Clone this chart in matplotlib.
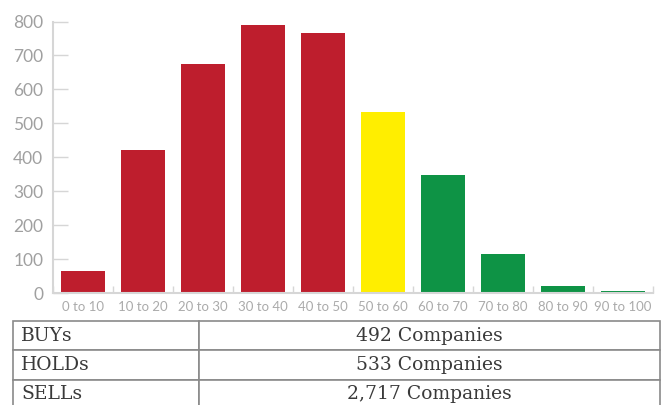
import matplotlib
matplotlib.use('Agg')
import matplotlib.pyplot as plt
import numpy as np

# Данные
ranges = ['0 to 10', '10 to 20', '20 to 30', '30 to 40', '40 to 50',
          '50 to 60', '60 to 70', '70 to 80', '80 to 90', '90 to 100']
counts = [65, 421, 675, 790, 766, 533, 349, 116, 22, 5]
bar_colors = ['#BE1E2D'] * 5 + ['#FFEE00'] + ['#0E9345'] * 4

table_labels = ['BUYs', 'HOLDs', 'SELLs']
table_values = ['492 Companies', '533 Companies', '2,717 Companies']

W, H = 663, 405
fig = plt.figure(figsize=(W / 100, H / 100), dpi=100)

# Полотно с барами
ax = fig.add_axes([53 / W, (H - 293) / H, 600 / W, 271.5 / H])
x = np.arange(len(ranges))
ax.bar(x, counts, width=0.73, color=bar_colors)
ax.set_xlim(-0.5, len(ranges) - 0.5)
ax.set_ylim(0, 800)

for s in ['top', 'right']:
    ax.spines[s].set_visible(False)
for s in ['left', 'bottom']:
    ax.spines[s].set_color('#d6d6d6')
    ax.spines[s].set_linewidth(1.5)

ax.set_yticks(range(0, 801, 100))
ax.tick_params(axis='y', direction='in', length=11, width=1, color='#d6d6d6',
               labelsize=12.5, labelcolor='#a0a0a0', pad=7)
ax.set_xticks(x)
ax.set_xticklabels(ranges)
ax.set_xticks(np.arange(-0.5, len(ranges)), minor=True)
ax.tick_params(axis='x', which='major', length=0, labelsize=9.5,
               labelcolor='#ababab', pad=6)
ax.tick_params(axis='x', which='minor', direction='in', length=5, width=1,
               color='#d6d6d6')
for lab in ax.get_xticklabels() + ax.get_yticklabels():
    lab.set_family(['Lato', 'DejaVu Sans'])

# Таблица снизу
tax = fig.add_axes([13 / W, -4 / H, 647 / W, 88 / H])
tax.axis('off')
rows = [[lab, val] for lab, val in zip(table_labels, table_values)]
tbl = tax.table(cellText=rows, colWidths=[186 / 647, 461 / 647],
                bbox=[0, 0, 1, 1], cellLoc='center')
tbl.auto_set_font_size(False)
for (r, c), cell in tbl.get_celld().items():
    cell.set_edgecolor('#8a8a8a')
    cell.set_linewidth(1.2)
    t = cell.get_text()
    t.set_fontsize(13.5)
    t.set_color('#3a3a3a')
    t.set_family(['DejaVu Serif'])
    if c == 0:
        t.set_ha('left')
        cell.PAD = 0.045

plt.savefig('out.png', dpi=100)
plt.close()
